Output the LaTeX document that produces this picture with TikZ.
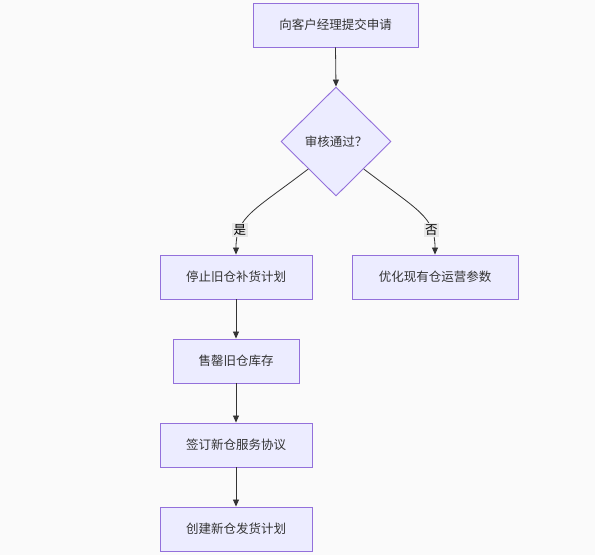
\documentclass[tikz,border=0pt]{standalone}
\usepackage{fontspec}
\setmainfont{Noto Sans CJK SC}
\usetikzlibrary{shapes.geometric,arrows.meta}
\definecolor{bg}{HTML}{FAFAFA}
\definecolor{nodefill}{HTML}{ECECFF}
\definecolor{nodeline}{HTML}{9370DB}
\definecolor{edge}{HTML}{333333}
\definecolor{lblbg}{HTML}{E8E8E8}
\tikzset{
  box/.style={draw=nodeline, fill=nodefill, line width=0.9pt, minimum height=44pt, inner sep=0pt, text=edge, font=\fontsize{12.5}{14}\selectfont},
  dia/.style={diamond, draw=nodeline, fill=nodefill, line width=0.9pt, minimum width=110pt, minimum height=109pt, inner sep=0pt, text=edge, font=\fontsize{12.5}{14}\selectfont},
  arr/.style={draw=edge, line width=0.8pt, -{Triangle[length=7pt,width=6pt]}},
  lbl/.style={fill=lblbg, inner sep=1.5pt, text=black, font=\fontsize{12.5}{14}\selectfont}
}
\begin{document}
\begin{tikzpicture}[x=1pt,y=-1pt]
\fill[bg] (0,0) rectangle (595,555);
\useasboundingbox (0,0) rectangle (595,555);
\node[box, minimum width=165pt] (a) at (335.5,25) {向客户经理提交申请};
\node[dia] (d) at (336,141.5) {审核通过？};
\node[box, minimum width=152pt] (b) at (236,277) {停止旧仓补货计划};
\node[box, minimum width=166pt] (c) at (435,277) {优化现有仓运营参数};
\node[box, minimum width=126pt] (e) at (236,361) {售罄旧仓库存};
\node[box, minimum width=152pt] (f) at (236,445) {签订新仓服务协议};
\node[box, minimum width=152pt] (g) at (236,529) {创建新仓发货计划};
\draw[arr] (a.south) -- (d.north);
\draw[arr] (d.south west) .. controls +(-55,42) and +(0,-38) .. node[lbl, pos=0.74] {是} (b.north);
\draw[arr] (d.south east) .. controls +(55,42) and +(0,-38) .. node[lbl, pos=0.74] {否} (c.north);
\draw[arr] (b.south) -- (e.north);
\draw[arr] (e.south) -- (f.north);
\draw[arr] (f.south) -- (g.north);
\end{tikzpicture}
\end{document}
